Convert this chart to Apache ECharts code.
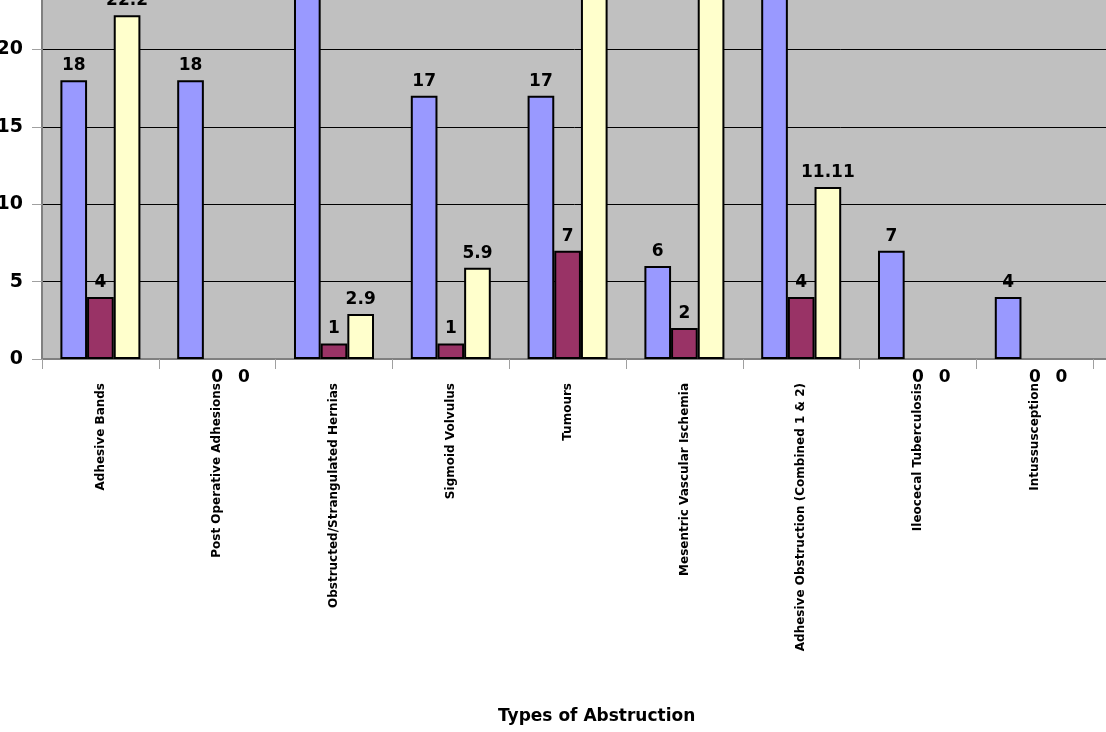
<!DOCTYPE html>
<html>
<head>
<meta charset="utf-8">
<script src="https://cdn.jsdelivr.net/npm/echarts@6/dist/echarts.min.js"></script>
<style>
  html, body { margin: 0; padding: 0; background: #fff; overflow: hidden; }
  #main { width: 1106px; height: 732px; }
</style>
</head>
<body>
<div id="main"></div>
<script>
// categories and values
var categories = ['Adhesive Bands', 'Post Operative Adhesions', 'Obstructed/Strangulated Hernias',
    'Sigmoid Volvulus', 'Tumours', 'Mesentric Vascular Ischemia',
    'Adhesive Obstruction (Combined 1 & 2)', 'Ileocecal Tuberculosis', 'Intussusception'];
var casesData = [18, 18, 34, 17, 17, 6, 36, 7, 4];
var secondData = [4, 0, 1, 1, 7, 2, 4, 0, 0];
var percentData = [22.2, 0, 2.9, 5.9, 41.2, 33.3, 11.11, 0, 0];
var yTicks = [0, 5, 10, 15, 20, 25];

var font = 'DejaVu Sans';

// zero values: no outline, label sits under the axis like the original
function toItems(arr) {
    return arr.map(function (v) {
        if (v === 0) {
            return {
                value: v,
                itemStyle: { borderWidth: 0 },
                label: { position: 'bottom', distance: 10 }
            };
        }
        return v;
    });
}

function barSeries(name, color, data) {
    return {
        name: name,
        type: 'bar',
        data: toItems(data),
        barGap: '0%',
        barCategoryGap: '31.5%',
        itemStyle: { color: color, borderColor: '#000', borderWidth: 2 },
        label: {
            show: true,
            position: 'top',
            distance: 6,
            color: '#000',
            fontFamily: font,
            fontWeight: 'bold',
            fontSize: 17
        }
    };
}

var chart = echarts.init(document.getElementById('main'));
var option = {
    animation: false,
    title: {
        text: 'Types of Abstruction',
        left: 493,
        top: 703,
        textStyle: { fontFamily: font, fontWeight: 'bold', fontSize: 17, color: '#000' }
    },
    grid: {
        left: 42,
        top: -28,
        width: 1168,
        bottom: 373,
        outerBoundsMode: 'none',
        containLabel: false,
        show: true,
        backgroundColor: '#c0c0c0',
        borderWidth: 0
    },
    xAxis: {
        type: 'category',
        // empty slot keeps the plot running past the right edge
        data: categories.concat(['']),
        axisLine: { lineStyle: { color: '#808080', width: 2 } },
        axisTick: { show: true, length: 10, lineStyle: { color: '#a0a0a0' } },
        axisLabel: {
            interval: 0,
            rotate: 90,
            margin: 24,
            color: '#000',
            fontFamily: font,
            fontWeight: 'bold',
            fontSize: 12
        }
    },
    yAxis: {
        type: 'value',
        min: yTicks[0],
        max: yTicks[yTicks.length - 1],
        interval: 5,
        axisLine: { show: true, lineStyle: { color: '#808080', width: 2 } },
        axisTick: { show: true, length: 10, lineStyle: { color: '#a0a0a0' } },
        splitLine: { lineStyle: { color: '#000', width: 1 } },
        axisLabel: {
            margin: 19,
            color: '#000',
            fontFamily: font,
            fontWeight: 'bold',
            fontSize: 19
        }
    },
    series: [
        barSeries('Cases', '#9999ff', casesData),
        barSeries('Count', '#993366', secondData),
        barSeries('Percent', '#ffffcc', percentData)
    ]
};
chart.setOption(option);
</script>
</body>
</html>
